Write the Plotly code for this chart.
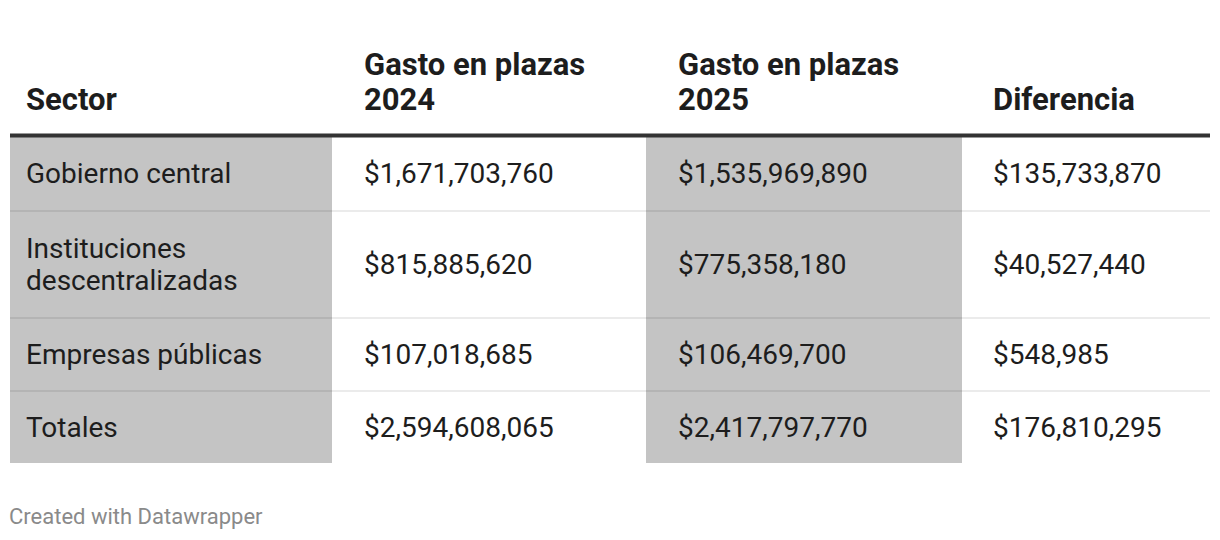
import plotly.graph_objects as go

# data
headers = ["Sector", "Gasto en plazas<br>2024", "Gasto en plazas<br>2025", "Diferencia"]
sectores = ["Gobierno central", "Instituciones<br>descentralizadas", "Empresas públicas", "Totales"]
gasto_2024 = ["$1,671,703,760", "$815,885,620", "$107,018,685", "$2,594,608,065"]
gasto_2025 = ["$1,535,969,890", "$775,358,180", "$106,469,700", "$2,417,797,770"]
diferencia = ["$135,733,870", "$40,527,440", "$548,985", "$176,810,295"]

columns = [sectores, gasto_2024, gasto_2025, diferencia]

# layout (pixel units on a 1220x540 canvas); page body has an 8px margin
W, H = 1220, 540
OFF = 8
col_edges = [10, 332, 646, 962, 1210]
col_pad = [17, 33, 33, 32]
shaded_cols = [0, 2]
row_edges = [136, 211, 318, 391, 463]
header_last_line_y = 99
header_gap = 35
body_gap = 32
FONT = "Roboto"
TXT = "#1d1d1d"
GRAY = "#c4c4c4"

fig = go.Figure()
fig.add_trace(go.Scatter(x=[OFF, W], y=[OFF, H], mode="markers", marker=dict(opacity=0), hoverinfo="skip"))

shapes = []
annotations = []

# shaded columns
for c in shaded_cols:
    shapes.append(dict(type="rect", xref="x", yref="y", x0=col_edges[c], x1=col_edges[c + 1],
                       y0=row_edges[0], y1=row_edges[-1], fillcolor=GRAY, line=dict(width=0), layer="below"))

# row separators
for y in row_edges[1:-1]:
    shapes.append(dict(type="line", xref="x", yref="y", x0=col_edges[0], x1=col_edges[-1], y0=y, y1=y,
                       line=dict(color="rgba(0,0,0,0.08)", width=2)))

# header rule
shapes.append(dict(type="line", xref="x", yref="y", x0=col_edges[0], x1=col_edges[-1],
                   y0=row_edges[0] - 0.5, y1=row_edges[0] - 0.5, line=dict(color="#333333", width=4)))

# headers (bottom aligned)
for c, h in enumerate(headers):
    lines = h.split("<br>")
    for i, ln in enumerate(reversed(lines)):
        annotations.append(dict(x=col_edges[c] + col_pad[c], y=header_last_line_y - i * header_gap,
                                xref="x", yref="y", text="<b>" + ln + "</b>", showarrow=False,
                                xanchor="left", yanchor="middle", xshift=-3,
                                font=dict(family=FONT, size=31, color=TXT)))

# body cells
for c, col in enumerate(columns):
    for r, val in enumerate(col):
        yc = (row_edges[r] + row_edges[r + 1]) / 2
        lines = val.split("<br>")
        n = len(lines)
        for i, ln in enumerate(lines):
            annotations.append(dict(x=col_edges[c] + col_pad[c], y=yc + (i - (n - 1) / 2) * body_gap,
                                    xref="x", yref="y", text=ln, showarrow=False,
                                    xanchor="left", yanchor="middle", xshift=-3,
                                    font=dict(family=FONT, size=28, color=TXT)))

# footer
annotations.append(dict(x=10, y=516, xref="x", yref="y", text="Created with Datawrapper", showarrow=False,
                        xanchor="left", yanchor="middle", xshift=-3,
                        font=dict(family=FONT, size=22, color="#8a8a8a")))

fig.update_layout(
    width=W, height=H,
    margin=dict(l=0, r=0, t=0, b=0),
    paper_bgcolor="white", plot_bgcolor="white",
    xaxis=dict(range=[OFF, W + OFF], visible=False, fixedrange=True),
    yaxis=dict(range=[H + OFF, OFF], visible=False, fixedrange=True),
    shapes=shapes, annotations=annotations, showlegend=False,
)

fig.write_html("out.html")
